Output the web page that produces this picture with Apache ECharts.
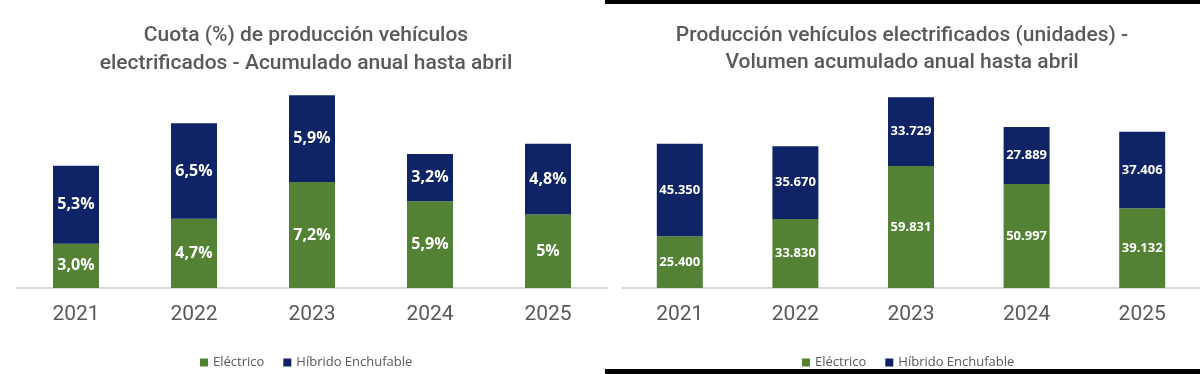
<!DOCTYPE html>
<html>
<head>
<meta charset="utf-8">
<script src="https://cdn.jsdelivr.net/npm/echarts@6/dist/echarts.min.js"></script>
<style>
html,body{margin:0;padding:0;background:#fff;}
#c{width:1200px;height:374px;}
</style>
</head>
<body>
<div id="c"></div>
<script>
const years = ['2021', '2022', '2023', '2024', '2025'];
const shareElectric = [3.0, 4.7, 7.2, 5.9, 5.0];
const shareElectricLabels = ['3,0%', '4,7%', '7,2%', '5,9%', '5%'];
const sharePhev = [5.3, 6.5, 5.9, 3.2, 4.8];
const unitsElectric = [25400, 33830, 59831, 50997, 39132];
const unitsPhev = [45350, 35670, 33729, 27889, 37406];
const seriesNames = ['Eléctrico', 'Híbrido Enchufable'];

const GREEN = '#548235';
const NAVY = '#0f2467';
const GREY = '#595959';

function fmtThousands(v) {
  return String(v).replace(/\B(?=(\d{3})+(?!\d))/g, '.');
}
function fmtPct(v) {
  return v.toFixed(1).replace('.', ',') + '%';
}

const chart = echarts.init(document.getElementById('c'));
const labelBase = {show: true, position: 'inside', color: '#ffffff', fontWeight: 'bold', fontFamily: 'Open Sans'};
const titleStyle = {fontFamily: 'Roboto', fontSize: 21, fontWeight: 500, color: GREY, lineHeight: 28};

chart.setOption({
  animation: false,
  backgroundColor: '#ffffff',
  title: [
    {text: 'Cuota (%) de producción vehículos\nelectrificados - Acumulado anual hasta abril',
     left: 301, top: 17, textAlign: 'center', textStyle: titleStyle},
    {text: 'Producción vehículos electrificados (unidades) -\nVolumen acumulado anual hasta abril',
     left: 897, top: 17, textAlign: 'center', textStyle: Object.assign({}, titleStyle, {lineHeight: 27})}
  ],
  legend: [
    {data: seriesNames, left: 195, top: 351, itemWidth: 8, itemHeight: 8, itemGap: 19,
     icon: 'rect', textStyle: {fontFamily: 'Open Sans', fontSize: 13, color: GREY}},
    {data: seriesNames, left: 797, top: 351, itemWidth: 8, itemHeight: 8, itemGap: 19,
     icon: 'rect', textStyle: {fontFamily: 'Open Sans', fontSize: 13, color: GREY}}
  ],
  grid: [
    {left: 17, width: 590, top: 82, height: 206},
    {left: 622, width: 578, top: 84, height: 204}
  ],
  xAxis: [
    {type: 'category', gridIndex: 0, data: years,
     axisLine: {lineStyle: {color: '#d9d9d9', width: 2}}, axisTick: {show: false},
     axisLabel: {color: GREY, fontSize: 21, fontFamily: 'Roboto', margin: 16}},
    {type: 'category', gridIndex: 1, data: years,
     axisLine: {lineStyle: {color: '#d9d9d9', width: 2}}, axisTick: {show: false},
     axisLabel: {color: GREY, fontSize: 21, fontFamily: 'Roboto', margin: 16}}
  ],
  yAxis: [
    {type: 'value', gridIndex: 0, min: 0, max: 14, show: false, splitLine: {show: false}},
    {type: 'value', gridIndex: 1, min: 0, max: 100000, show: false, splitLine: {show: false}}
  ],
  series: [
    {name: seriesNames[0], type: 'bar', stack: 'a', xAxisIndex: 0, yAxisIndex: 0, barWidth: 46,
     data: shareElectric, itemStyle: {color: GREEN},
     label: Object.assign({}, labelBase, {fontSize: 16, formatter: p => shareElectricLabels[p.dataIndex]})},
    {name: seriesNames[1], type: 'bar', stack: 'a', xAxisIndex: 0, yAxisIndex: 0, barWidth: 46,
     data: sharePhev, itemStyle: {color: NAVY},
     label: Object.assign({}, labelBase, {fontSize: 16, formatter: p => fmtPct(p.value)})},
    {name: seriesNames[0], type: 'bar', stack: 'b', xAxisIndex: 1, yAxisIndex: 1, barWidth: 46,
     data: unitsElectric, itemStyle: {color: GREEN},
     label: Object.assign({}, labelBase, {fontSize: 13, formatter: p => fmtThousands(p.value)})},
    {name: seriesNames[1], type: 'bar', stack: 'b', xAxisIndex: 1, yAxisIndex: 1, barWidth: 46,
     data: unitsPhev, itemStyle: {color: NAVY},
     label: Object.assign({}, labelBase, {fontSize: 13, formatter: p => fmtThousands(p.value)})}
  ],
  graphic: [
    {type: 'rect', shape: {x: 605, y: 0, width: 595, height: 4}, style: {fill: '#000'}},
    {type: 'rect', shape: {x: 605, y: 369, width: 595, height: 5}, style: {fill: '#000'}}
  ]
});
</script>
</body>
</html>
